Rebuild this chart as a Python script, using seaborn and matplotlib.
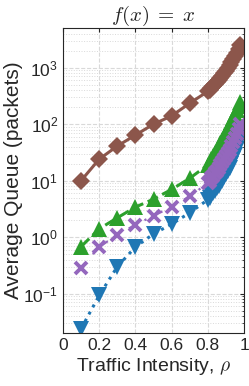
import numpy as np
import pandas as pd
import seaborn as sns
import matplotlib.pyplot as plt
from matplotlib.ticker import LogLocator, NullFormatter

# %%
rho = [0.1, 0.2, 0.3, 0.4, 0.5, 0.6, 0.7, 0.8,
       0.81, 0.82, 0.83, 0.84, 0.85, 0.86, 0.87, 0.88, 0.89,
       0.9, 0.91, 0.92, 0.93, 0.94, 0.95, 0.96, 0.97, 0.98]

q_brown = [10, 24, 41, 64, 100, 140, 235, 380,
           410, 440, 480, 520, 560, 610, 660, 720, 800,
           880, 980, 1100, 1250, 1400, 1600, 1850, 2150, 2500]
q_green = [0.68, 1.4, 2.2, 3.4, 4.7, 7.0, 11, 19,
           21, 24, 27, 31, 35, 40, 46, 53, 61,
           70, 82, 95, 110, 128, 150, 175, 210, 250]
q_purple = [0.29, 0.67, 1.1, 1.65, 2.4, 3.4, 5.3, 9,
            10, 11, 12, 13.5, 15, 17, 19, 21, 24,
            27, 31, 35, 41, 48, 57, 68, 82, 100]
q_blue = [0.024, 0.093, 0.3, 0.67, 1.14, 1.7, 2.7, 4.6,
          5, 5.5, 6, 6.6, 7.3, 8, 9, 10, 11.5,
          13, 15, 17, 20, 24, 29, 36, 48, 75]

x_ticks = [0, 0.2, 0.4, 0.6, 0.8, 1]
x_ticklabels = ["0", "0.2", "0.4", "0.6", "0.8", "1"]

# %%
sns.set_style("white")
plt.rcParams['font.family'] = ['Liberation Sans', 'DejaVu Sans']
plt.rcParams['mathtext.fontset'] = 'cm'

fig, ax = plt.subplots(figsize=(2.49, 3.86), dpi=100)
fig.subplots_adjust(left=0.253, right=0.98, top=0.927, bottom=0.137)

series = [
    (q_brown, "tab:brown", "D", "-", 2.2, 9.5, 0),
    (q_green, "tab:green", "^", "--", 2.2, 12, 0),
    (q_blue, "tab:blue", "v", ":", 2.2, 12, 0),
    (q_purple, "tab:purple", "x", (0, (3, 5, 1, 5)), 1.6, 8, 2.8),
]
for vals, col, mk, ls, lw, ms, mew in series:
    df = pd.DataFrame({"rho": rho, "q": vals})
    sns.lineplot(data=df, x="rho", y="q", ax=ax, color=col, marker=mk,
                 linestyle=ls, linewidth=lw, markersize=ms,
                 markeredgecolor=col, markeredgewidth=mew)

ax.set_yscale("log")
ax.set_xlim(0, 1)
ax.set_ylim(0.02, 5000)
ax.set_xticks(x_ticks)
ax.set_xticklabels(x_ticklabels)
ax.yaxis.set_major_locator(LogLocator(base=10, numticks=10))
ax.yaxis.set_minor_locator(LogLocator(base=10, subs=np.arange(2, 10), numticks=20))
ax.yaxis.set_minor_formatter(NullFormatter())

ax.grid(True, which="major", linestyle="--", color="#d9d9d9", linewidth=0.8)
ax.grid(True, which="minor", axis="y", linestyle=":", color="#d9d9d9", linewidth=0.7)
ax.tick_params(which="both", direction="in", top=True, right=True,
               labelsize=12.5, colors="#262626", length=3)
ax.tick_params(which="minor", length=1.5)
for s in ax.spines.values():
    s.set_color("#262626")
    s.set_linewidth(0.8)

ax.set_xlabel(r"Traffic Intensity, $\rho$", fontsize=14, labelpad=2)
ax.set_ylabel("Average Queue (packets)", fontsize=15, labelpad=0)
ax.set_title(r"$f(x)\;=\;x$", fontsize=15, pad=5)

fig.savefig("out.png", dpi=100)
